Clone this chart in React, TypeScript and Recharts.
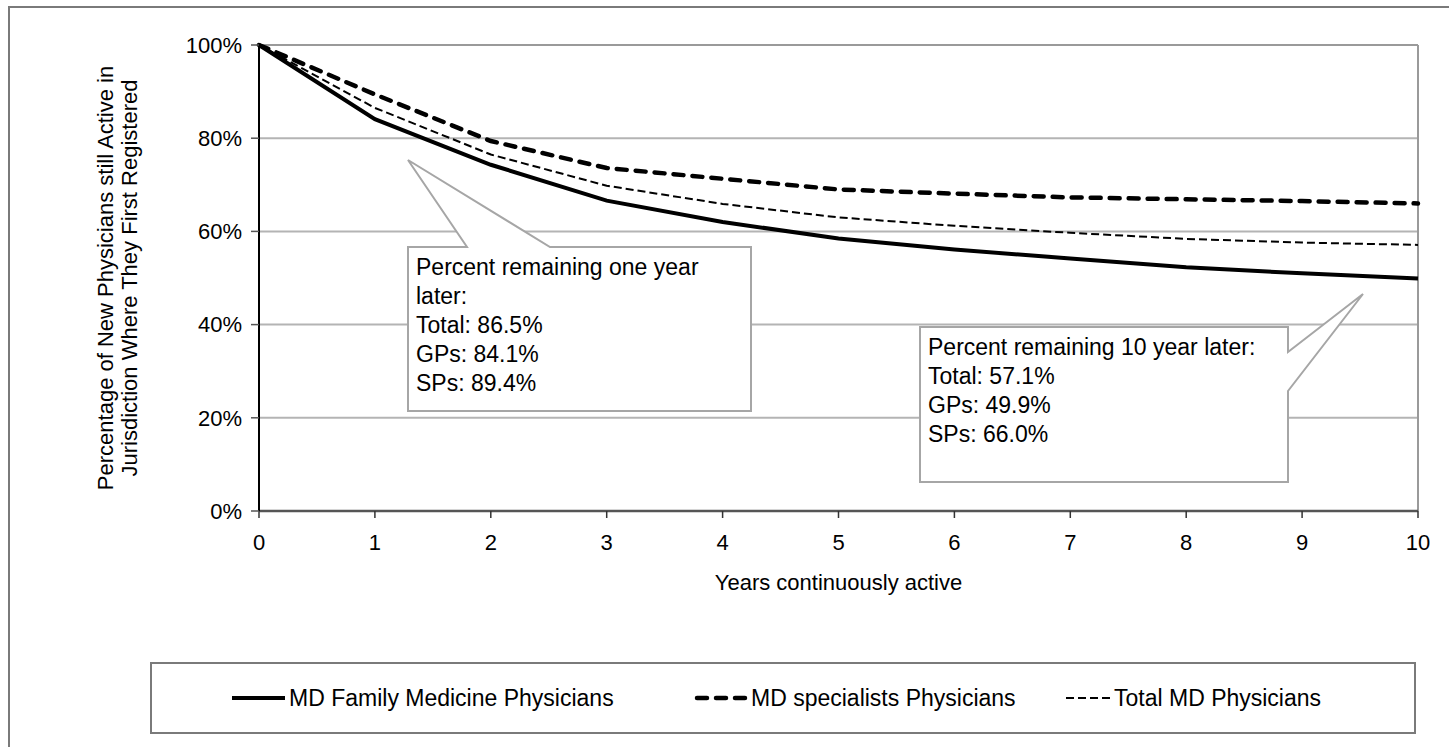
import { LineChart, Line, XAxis, YAxis, CartesianGrid, ReferenceLine } from 'recharts'

const years = [0, 1, 2, 3, 4, 5, 6, 7, 8, 9, 10]
const familyMedicine = [100, 84.1, 74.3, 66.6, 62.0, 58.5, 56.1, 54.2, 52.3, 51.0, 49.9]
const specialists = [100, 89.4, 79.4, 73.6, 71.3, 69.0, 68.1, 67.3, 66.9, 66.5, 66.0]
const totalMd = [100, 86.5, 76.5, 69.8, 65.9, 63.0, 61.2, 59.7, 58.4, 57.6, 57.1]
const yTicks = [0, 20, 40, 60, 80, 100]

const seriesNames = ['MD Family Medicine Physicians', 'MD specialists Physicians', 'Total MD Physicians']
const yTitle = ['Percentage of New Physicians still Active in', 'Jurisdiction Where They First Registered']
const xTitle = 'Years continuously active'
const noteOneYear = ['Percent remaining one year', 'later:', 'Total: 86.5%', 'GPs: 84.1%', 'SPs: 89.4%']
const noteTenYear = ['Percent remaining 10 year later:', 'Total: 57.1%', 'GPs: 49.9%', 'SPs: 66.0%']

const data = years.map((year, i) => ({
  year,
  gp: familyMedicine[i],
  sp: specialists[i],
  total: totalMd[i],
}))

const FONT = '"Liberation Sans", Arial, sans-serif'
const W = 1449
const H = 747

const styles = {
  gp: { stroke: '#000', width: 4, dash: undefined as string | undefined, cap: 'butt' as const },
  sp: { stroke: '#000', width: 4.5, dash: '10 9', cap: 'round' as const },
  total: { stroke: '#000', width: 2, dash: '8 4', cap: 'butt' as const },
}

function LegendBox() {
  const items = [
    { name: seriesNames[0], s: styles.gp, left: 80, sw: 53 },
    { name: seriesNames[1], s: styles.sp, left: 542, sw: 53 },
    { name: seriesNames[2], s: styles.total, left: 914, sw: 44 },
  ]
  return (
    <div style={{ position: 'absolute', left: 150, top: 662, width: 1266, height: 72, border: '2px solid #7a7a7a', boxSizing: 'border-box', background: '#fff' }}>
      {items.map((it) => (
        <div key={it.name} style={{ position: 'absolute', left: it.left, top: 0, height: 68, display: 'flex', alignItems: 'center', fontFamily: FONT, fontSize: 23, color: '#000', whiteSpace: 'nowrap' }}>
          <svg width={it.sw + 2} height={10} style={{ marginRight: 2 }}>
            <line x1={it.s.cap === 'round' ? 3 : 0} y1={5} x2={it.s.cap === 'round' ? it.sw - 2 : it.sw} y2={5} stroke={it.s.stroke} strokeWidth={it.s.width} strokeDasharray={it.s.dash} strokeLinecap={it.s.cap} />
          </svg>
          <span>{it.name}</span>
        </div>
      ))}
    </div>
  )
}

function YTitle(props: any) {
  const vb = props.viewBox || {}
  const cy = (vb.y ?? 45) + (vb.height ?? 466) / 2
  const x1 = 105
  const x2 = 129
  return (
    <g fontFamily={FONT} fontSize={22} fill="#000">
      <text x={x1} y={cy} transform={`rotate(-90 ${x1} ${cy})`} textAnchor="middle" dominantBaseline="central">{yTitle[0]}</text>
      <text x={x2} y={cy} transform={`rotate(-90 ${x2} ${cy})`} textAnchor="middle" dominantBaseline="central">{yTitle[1]}</text>
    </g>
  )
}

function Callouts() {
  return (
    <svg width={W} height={H} style={{ position: 'absolute', left: 0, top: 0, pointerEvents: 'none' }}>
      <path d="M408,247 L467,247 L408,160 L550,247 L751,247 L751,411 L408,411 Z" fill="#fff" stroke="#a6a6a6" strokeWidth={2} />
      <path d="M920,327 L1288,327 L1288,352 L1363,294 L1288,391 L1288,482 L920,482 Z" fill="#fff" stroke="#a6a6a6" strokeWidth={2} />
      <g fontFamily={FONT} fontSize={23} fill="#000">
        {noteOneYear.map((t, i) => (
          <text key={t} x={416} y={275 + i * 29}>{t}</text>
        ))}
        {noteTenYear.map((t, i) => (
          <text key={t} x={928} y={355 + i * 29}>{t}</text>
        ))}
      </g>
    </svg>
  )
}

export default function App() {
  return (
    <div style={{ position: 'fixed', inset: 0, overflow: 'hidden', background: '#fff' }}>
      <div style={{ position: 'absolute', left: 8, top: 6, width: 1470, height: 770, border: '2px solid #7a7a7a', boxSizing: 'border-box' }} />
      <div style={{ position: 'absolute', left: 0, top: 0 }}>
        <LineChart width={W} height={H} data={data} margin={{ top: 45, right: 31, bottom: 176, left: 179 }} style={{ fontFamily: FONT }}>
          <CartesianGrid vertical={false} stroke="#b4b4b4" strokeWidth={2} />
          <ReferenceLine x={10} stroke="#9a9a9a" strokeWidth={2} />
          <ReferenceLine y={100} stroke="#9a9a9a" strokeWidth={2} />
          <XAxis
            dataKey="year"
            type="number"
            domain={[0, 10]}
            ticks={years}
            height={60}
            tickSize={7}
            tickMargin={16}
            axisLine={{ stroke: '#555', strokeWidth: 2.5 }}
            tickLine={{ stroke: '#333', strokeWidth: 1.5 }}
            tick={{ fill: '#000', fontSize: 22, fontFamily: FONT }}
            label={{ value: xTitle, position: 'bottom', offset: 3, fill: '#000', fontSize: 22, fontFamily: FONT }}
          />
          <YAxis
            domain={[0, 100]}
            ticks={yTicks}
            width={80}
            tickSize={8}
            tickMargin={9}
            tickFormatter={(v: number) => `${v}%`}
            axisLine={{ stroke: '#000', strokeWidth: 2 }}
            tickLine={{ stroke: '#555', strokeWidth: 1.5 }}
            tick={{ fill: '#000', fontSize: 22, fontFamily: FONT }}
            label={<YTitle />}
          />
          <Line dataKey="total" name={seriesNames[2]} stroke={styles.total.stroke} strokeWidth={styles.total.width} strokeDasharray={styles.total.dash} dot={false} isAnimationActive={false} />
          <Line dataKey="sp" name={seriesNames[1]} stroke={styles.sp.stroke} strokeWidth={styles.sp.width} strokeDasharray={styles.sp.dash} strokeLinecap="round" dot={false} isAnimationActive={false} />
          <Line dataKey="gp" name={seriesNames[0]} stroke={styles.gp.stroke} strokeWidth={styles.gp.width} dot={false} isAnimationActive={false} />
        </LineChart>
      </div>
      <Callouts />
      <LegendBox />
    </div>
  )
}
